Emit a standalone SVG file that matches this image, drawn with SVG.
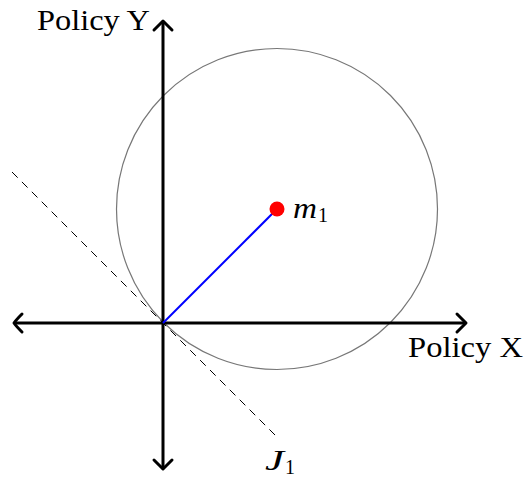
<svg xmlns="http://www.w3.org/2000/svg" width="525" height="477" viewBox="0 0 525 477">
<style>
.ax{stroke:#000;stroke-width:3;fill:none}
.ah{stroke:#000;stroke-width:3;fill:none;stroke-linecap:round;stroke-linejoin:round}
.lbl{font-family:"Liberation Serif","DejaVu Serif",serif;font-size:29px;fill:#000}
.math{font-family:"Liberation Serif","DejaVu Serif",serif;font-style:italic;font-size:29px;fill:#000}
.sub{font-family:"Liberation Serif","DejaVu Serif",serif;font-size:20px;fill:#000}
</style>
<rect width="525" height="477" fill="#fff"/>
<g id="circle">
<circle cx="277" cy="209" r="160.5" fill="none" stroke="#777" stroke-width="1.2"/>
</g>
<g id="connectors">
<line x1="12" y1="172" x2="277" y2="437" stroke="#000" stroke-width="1" stroke-dasharray="8,6"/>
<line x1="14" y1="323" x2="466" y2="323" class="ax"/>
<line x1="163" y1="21" x2="163" y2="469" class="ax"/>
<path class="ah" d="M22,314 Q16,320 14,323 Q16,326 22,332"/>
<path class="ah" d="M457,314 Q463,320 466,323 Q463,326 457,332"/>
<path class="ah" d="M154,30 Q160,24 163,21 Q166,24 172,30"/>
<path class="ah" d="M154,460 Q160,466 163,469 Q166,466 172,460"/>
<line x1="163" y1="323" x2="277" y2="209" stroke="#0000ff" stroke-width="2"/>
</g>
<g id="m1">
<circle cx="277" cy="209" r="7.5" fill="#ff0000"/>
<text x="293" y="218" class="math" textLength="24" lengthAdjust="spacingAndGlyphs">m</text>
<text x="318" y="222" class="sub">1</text>
</g>
<g id="J1">
<text x="265" y="470" class="math" textLength="19" lengthAdjust="spacingAndGlyphs">J</text>
<text x="285" y="474" class="sub">1</text>
</g>
<g id="labelY">
<text x="37" y="30" class="lbl" textLength="113" lengthAdjust="spacingAndGlyphs">Policy Y</text>
</g>
<g id="labelX">
<text x="408" y="357" class="lbl" textLength="115" lengthAdjust="spacingAndGlyphs">Policy X</text>
</g>
</svg>
